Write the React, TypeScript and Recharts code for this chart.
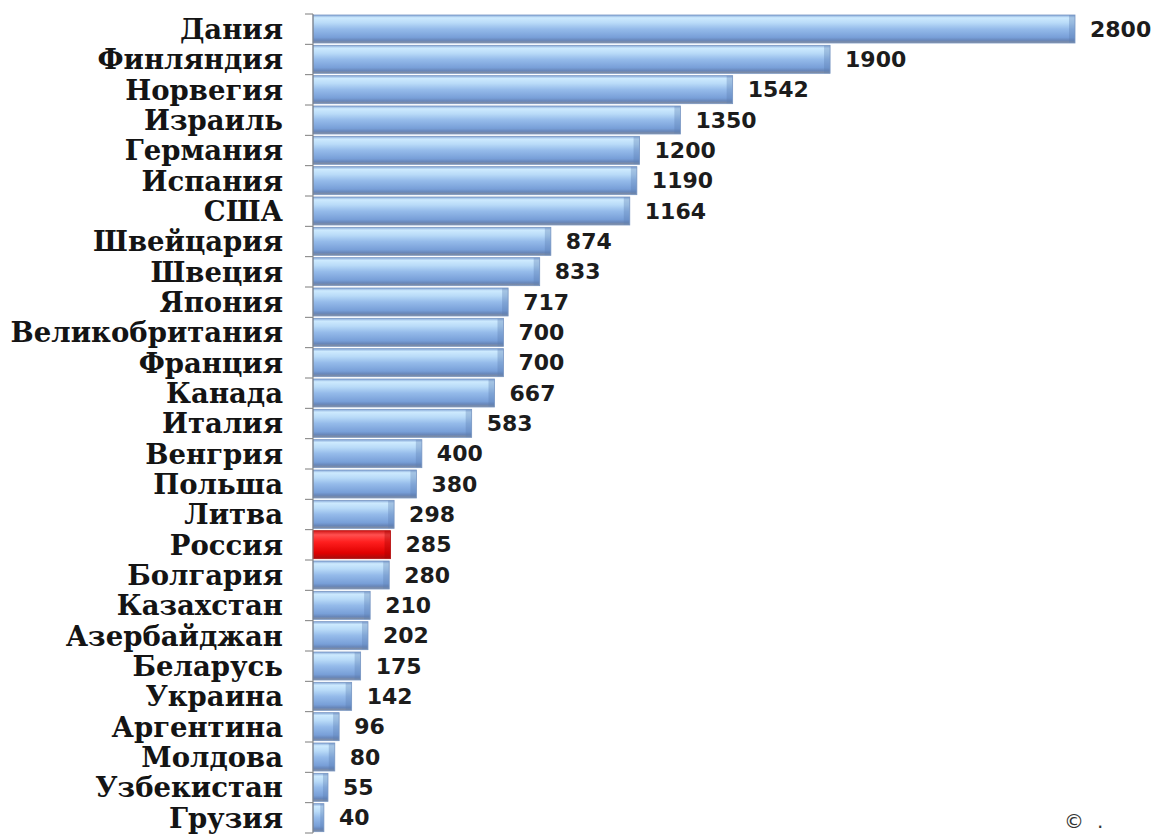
import { Bar, BarChart, Cell, LabelList, XAxis, YAxis } from "recharts";

const COUNTRIES = [
  "Дания",
  "Финляндия",
  "Норвегия",
  "Израиль",
  "Германия",
  "Испания",
  "США",
  "Швейцария",
  "Швеция",
  "Япония",
  "Великобритания",
  "Франция",
  "Канада",
  "Италия",
  "Венгрия",
  "Польша",
  "Литва",
  "Россия",
  "Болгария",
  "Казахстан",
  "Азербайджан",
  "Беларусь",
  "Украина",
  "Аргентина",
  "Молдова",
  "Узбекистан",
  "Грузия",
];

const VALUES = [
  2800, 1900, 1542, 1350, 1200, 1190, 1164, 874, 833, 717, 700, 700, 667, 583,
  400, 380, 298, 285, 280, 210, 202, 175, 142, 96, 80, 55, 40,
];

const HIGHLIGHT = "Россия";

const DATA = COUNTRIES.map((name, i) => ({ name, value: VALUES[i] }));

const W = 1154;
const H = 835;
const MARGIN = { top: 14, right: 79, bottom: 2, left: 0 };
const BAND = (H - MARGIN.top - MARGIN.bottom) / COUNTRIES.length;

// category label + short tick at the band boundary (Excel-style)
function CountryTick(props: any) {
  const { x, y, payload, index } = props;
  const axisX = x + 30;
  return (
    <g>
      <line x1={axisX - 8} x2={axisX} y1={y - BAND / 2} y2={y - BAND / 2} stroke="#7d7d7d" />
      {index === COUNTRIES.length - 1 && (
        <line x1={axisX - 8} x2={axisX} y1={y + BAND / 2} y2={y + BAND / 2} stroke="#7d7d7d" />
      )}
      <text
        x={x}
        y={y}
        dy="0.36em"
        textAnchor="end"
        fill="#141414"
        style={{ fontFamily: "'DejaVu Serif', serif", fontWeight: 700, fontSize: 27.5 }}
      >
        {payload.value}
      </text>
    </g>
  );
}

function GlassBar(props: any) {
  const { x, y, width, height, fill } = props;
  if (!width || width <= 0) return null;
  const red = fill === "url(#gRed)";
  const bevel = Math.min(6, width / 3);
  return (
    <g>
      <rect x={x} y={y} width={width} height={height} fill={fill} />
      <rect
        x={x + width - bevel}
        y={y}
        width={bevel}
        height={height}
        fill={red ? "#a00000" : "#5d7fb2"}
        opacity={0.35}
      />
      <rect
        x={x}
        y={y}
        width={width}
        height={height}
        fill="none"
        stroke={red ? "#b31010" : "#7896c2"}
        strokeWidth={0.8}
      />
    </g>
  );
}

export default function App() {
  return (
    <div style={{ position: "absolute", left: 0, top: 0, width: W, height: H, background: "#fff" }}>
      <BarChart width={W} height={H} data={DATA} layout="vertical" margin={MARGIN} barCategoryGap={1}>
        <defs>
          <linearGradient id="gBlue" x1="0" y1="0" x2="0" y2="1">
            <stop offset="0%" stopColor="#86a8d8" />
            <stop offset="10%" stopColor="#cdeafe" />
            <stop offset="28%" stopColor="#b9dbf8" />
            <stop offset="50%" stopColor="#95bbea" />
            <stop offset="80%" stopColor="#789fd8" />
            <stop offset="90%" stopColor="#6887ba" />
            <stop offset="100%" stopColor="#848d9e" />
          </linearGradient>
          <linearGradient id="gRed" x1="0" y1="0" x2="0" y2="1">
            <stop offset="0%" stopColor="#d21818" />
            <stop offset="15%" stopColor="#ff5050" />
            <stop offset="40%" stopColor="#ff1f1f" />
            <stop offset="80%" stopColor="#e00000" />
            <stop offset="100%" stopColor="#a50d0d" />
          </linearGradient>
        </defs>
        <XAxis type="number" domain={[0, 2800]} hide />
        <YAxis
          type="category"
          dataKey="name"
          width={313}
          interval={0}
          tickLine={false}
          tickSize={8}
          tickMargin={22}
          axisLine={{ stroke: "#7d7d7d" }}
          tick={<CountryTick />}
        />
        <Bar dataKey="value" isAnimationActive={false} shape={<GlassBar />}>
          {DATA.map((d) => (
            <Cell key={d.name} fill={d.name === HIGHLIGHT ? "url(#gRed)" : "url(#gBlue)"} />
          ))}
          <LabelList
            dataKey="value"
            position="right"
            offset={15}
            fill="#1c1c1c"
            style={{ fontFamily: "'DejaVu Sans', sans-serif", fontWeight: 700, fontSize: 22 }}
          />
        </Bar>
        <text x={1064} y={828} fill="#333" style={{ fontFamily: "'DejaVu Sans', sans-serif", fontSize: 20 }}>
          ©
        </text>
        <text x={1097} y={828} fill="#333" style={{ fontFamily: "'DejaVu Sans', sans-serif", fontSize: 20 }}>
          .
        </text>
      </BarChart>
    </div>
  );
}
